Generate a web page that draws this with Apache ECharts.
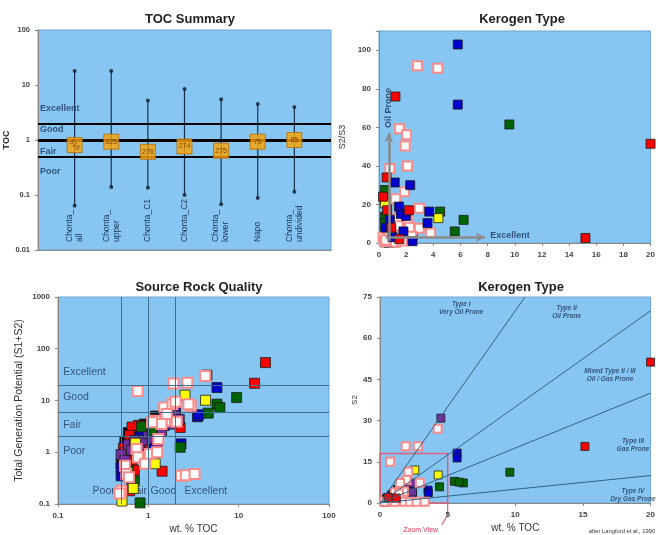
<!DOCTYPE html>
<html><head><meta charset="utf-8">
<script src="https://cdn.jsdelivr.net/npm/echarts@6/dist/echarts.min.js"></script>
<style>html,body{margin:0;padding:0;background:#fff}#c{width:658px;height:535px}</style>
</head><body><div id="c"></div>
<script>
// ---------- TOC Summary ----------
const tocGroups = ['Chonta_\nall','Chonta_\nupper','Chonta_C1','Chonta_C2','Chonta_\nlower','Napo','Chonta_\nundivided'];
const tocMin  = [0.064, 0.14, 0.135, 0.10, 0.068, 0.088, 0.115];
const tocMax  = [18, 18, 5.2, 8.5, 5.5, 4.5, 4.0];
const tocMean = [0.81, 0.93, 0.61, 0.76, 0.64, 0.93, 1.0];
const tocCount = ['516','225','276','274','275','75','85'];
const tocClassLines = [0.5, 1, 2];
const tocClassLabels = [['Excellent',3.8],['Good',1.58],['Fair',0.63],['Poor',0.27]];

// ---------- Kerogen Type (S2/S3 vs TOC) ----------
const kt1Blue   = [[5.8,103],[5.8,71.8],[1.16,31.4],[2.3,30],[1.47,18.9],[3.7,16.3],[3.57,10.3],[2.47,0.9],[1.6,15],[2.0,14],[0.5,8],[1.0,3],[1.8,6],[0.8,12]];
const kt1Red    = [[1.21,76],[20,51.5],[15.2,2.6],[0.56,34],[2.2,17],[0.3,24],[0.6,17],[0.9,8],[1.5,2]];
const kt1Green  = [[9.6,61.5],[6.23,12],[5.58,6],[4.5,16.3],[0.43,27.5],[0.43,22],[0.43,13.7],[0.43,10.3],[0.43,6],[0.6,22]];
const kt1Yellow = [[4.37,12.9],[0.43,20.6],[0.48,5],[1.6,11],[2.5,4]];
const kt1Black  = [[1.26,0.3],[0.4,0.3],[1.0,0.5],[0.7,0.2]];
const kt1Pink   = [[2.83,92],[4.33,90.7],[1.5,59.3],[2.03,56.2],[1.93,50.3],[2.1,40],[0.8,38.6],[1.88,26.6],[1.23,23],[2.97,18],[1.4,12.9],[2.12,12],[1.4,9],[2.25,8.2],[2.97,7.7],[3.8,5.2],[0.3,3],[0.6,2.5],[1.0,3],[1.5,3],[0.4,0.8],[1.2,0.5],[2.4,3.5],[0.8,6],[0.5,1.5],[1.7,1]];
const kt1ArrowUp = [[0.72,1],[0.72,57]];
const kt1ArrowRight = [[0.5,3],[7.8,3]];

// ---------- Source Rock Quality (S1+S2 vs TOC, log-log) ----------
const srqRed    = [[19.8,54],[15,21.5],[1.42,0.43],[0.66,3.07],[0.62,2.12],[0.53,1.19],[0.78,3.3],[0.66,0.7],[0.7,0.45],[2.25,3.0],[0.55,1.0],[0.62,0.18],[0.9,1.5]];
const srqBlue   = [[5.75,17.8],[3.5,4.85],[3.6,5.3],[2.3,1.45],[0.5,0.35],[0.5,0.5],[0.55,1.3],[0.6,0.8],[0.7,1.0],[0.75,2.0],[0.8,1.6],[0.9,2.5],[1.0,1.4],[1.1,3.0],[1.2,2.2],[1.3,4.2],[1.5,3.3],[1.8,5.5],[2.0,6.5],[0.65,0.3],[0.85,0.9],[1.05,0.75]];
const srqPurple = [[4.45,31],[0.5,0.9],[0.55,0.7],[0.6,1.4],[0.65,1.1],[0.7,1.7],[0.8,1.2],[0.9,1.7],[1.0,2.3],[1.1,1.8],[1.2,3.4],[1.4,2.5],[1.6,4.5],[1.8,3.5],[2.0,5],[2.2,4.3],[1.5,6],[0.95,3.2],[1.25,1.3]];
const srqGreen  = [[9.5,11.4],[5.75,8.5],[6.2,7.3],[4.6,5.7],[2.25,1.25],[0.84,3.1],[0.81,0.105],[0.7,0.28],[1.1,2.6],[0.6,0.45]];
const srqYellow = [[2.55,12.7],[4.3,10.1],[0.51,0.114],[0.68,0.2],[1.19,0.6],[0.72,1.5],[1.0,0.9]];
const srqBlack  = [[0.5,0.6],[0.55,1.6],[0.6,2.4],[0.7,2.8],[0.9,3.5],[1.2,5.0]];
const srqPink   = [[0.76,15.3],[1.9,21.2],[2.7,22],[4.27,29.8],[2.95,7.9],[2.3,0.35],[2.6,0.36],[3.25,0.38],[1.5,7.3],[1.19,4.06],[1.53,4.06],[2.06,3.9],[1.29,1.8],[1.04,0.93],[0.74,1.16],[0.77,0.8],[0.92,0.6],[0.55,0.55],[0.57,0.38],[0.61,0.33],[0.5,0.18],[0.48,0.16],[2.78,8.5],[1.4,3.5],[1.1,3.8],[1.85,8.5],[1.6,5.5],[2.0,9.5],[1.25,1.0]];
const srqTocLines = [0.5, 1, 2];
const srqGenLines = [2, 6, 20];
const srqLeftLabels = [['Excellent',0.114,36],['Good',0.114,11.4],['Fair',0.114,3.4],['Poor',0.114,1.05]];
const srqBottomLabels = [['Poor',0.32,0.18],['Fair',0.77,0.18],['Good',1.47,0.18],['Excellent',4.33,0.18]];

// ---------- Kerogen Type (S2 vs TOC) ----------
const kt2Red    = [[20,51.3],[15.15,20.6],[0.6,2],[1.2,1.8]];
const kt2Purple = [[4.5,30.9],[2.33,7.2],[1.8,6.5],[1.0,3],[1.5,5],[0.6,1.2],[2.4,4]];
const kt2Pink   = [[4.26,27],[1.9,20.7],[2.8,20.7],[0.74,15],[2.08,11.4],[2.94,7.4],[1.96,8.4],[1.48,7.3],[1.1,3.9],[1.77,4.2],[0.74,0.5],[1.1,0.5],[1.8,0.5],[2.2,0.5],[2.7,0.5],[3.3,0.5],[0.9,1.8],[1.4,3.5],[0.3,0.5]];
const kt2Yellow = [[2.57,12],[4.3,10.2],[0.5,1]];
const kt2Blue   = [[5.7,18.2],[5.7,16.4],[3.55,4.7],[3.57,3.7],[2.2,6],[1.2,4],[0.8,2.5],[2.4,3.2]];
const kt2Green  = [[9.6,11.2],[4.4,5.9],[5.5,7.9],[6.16,7.3],[5.85,7.6],[0.5,1.5]];
const kt2Black  = [[0.5,1.8],[0.86,3],[1.1,4.2],[0.69,1.2],[0.3,0.6],[1.3,5],[0.4,0.2]];
const kt2HI = [700, 350, 200, 50];
const kt2ZoomBox = [[0,0],[5,18]];
const kt2Labels = [['Type I\nVery Oil Prone',6.0,71],['Type II\nOil Prone',13.8,69.5],['Mixed Type II / III\nOil / Gas Prone',17,46.6],['Type III\nGas Prone',18.7,21],['Type IV\nDry Gas Prone',18.7,3]];

const FONT = 'Liberation Sans, Arial, sans-serif';
const NAVY = '#1c3358';
const BG = '#87c6f2';
const COLORS = {red:'#ff0000', blue:'#0000cc', green:'#006400', yellow:'#ffff00', purple:'#7030a0', black:'#000000'};

function pts(gi, data, kind, size){
  const pink = kind === 'pink';
  return {type:'scatter', xAxisIndex:gi, yAxisIndex:gi, data:data, symbol:'rect', symbolSize:size, z:4, silent:true,
    itemStyle: pink ? {color:'#ffffff', borderColor:'#ff8a8a', borderWidth:2, opacity:1}
                    : {color:COLORS[kind], borderColor:'#1a1a1a', borderWidth:0.8, opacity:1}};
}
function texts(gi, items, style, z){
  return {type:'scatter', xAxisIndex:gi, yAxisIndex:gi, symbolSize:0, silent:true, z:z||2,
    data: items.map(t => ({value:[t[1], t[2]], label:{formatter:t[0]}})),
    label: Object.assign({show:true, position:'inside', fontFamily:FONT}, style)};
}
function axisCommon(){
  return {axisLine:{show:true, lineStyle:{color:'#888', width:1}}, axisTick:{show:true, length:3, lineStyle:{color:'#888'}},
    splitLine:{show:false}, axisLabel:{fontSize:8, color:'#444', fontWeight:'bold', fontFamily:FONT}};
}
function fmtNum(v){ return String(+(+v).toPrecision(3)); }

const grids = [
  {left:38, top:30, width:293, height:220},
  {left:379, top:31, width:276, height:212},
  {left:58, top:297, width:271, height:209},
  {left:380, top:297, width:272, height:206}
].map(g => Object.assign(g, {show:true, backgroundColor:BG, borderColor:'#6fa5cf', borderWidth:1, containLabel:false}));

const ac = axisCommon;
const xAxes = [
  Object.assign(ac(), {gridIndex:0, type:'category', boundaryGap:false, data:['', ...tocGroups, ''],
    axisTick:{show:false},
    axisLabel:{inside:true, rotate:90, fontSize:8.5, color:NAVY, fontFamily:FONT, lineHeight:10, interval:0}}),
  Object.assign(ac(), {gridIndex:1, type:'value', min:0, max:20, interval:2}),
  Object.assign(ac(), {gridIndex:2, type:'log', logBase:10, min:0.1, max:100,
    name:'wt. % TOC', nameLocation:'middle', nameGap:20, nameTextStyle:{fontSize:10, color:'#333', fontFamily:FONT}}),
  Object.assign(ac(), {gridIndex:3, type:'value', min:0, max:20, interval:5,
    name:'wt. % TOC', nameLocation:'middle', nameGap:20, nameTextStyle:{fontSize:10, color:'#333', fontFamily:FONT}})
];
xAxes[2].axisLabel.formatter = fmtNum;
const yAxes = [
  Object.assign(ac(), {gridIndex:0, type:'log', logBase:10, min:0.01, max:100,
    name:'TOC', nameLocation:'middle', nameGap:24, nameTextStyle:{fontSize:9, fontWeight:'bold', color:'#333', fontFamily:FONT}}),
  Object.assign(ac(), {gridIndex:1, type:'value', min:0, max:110, interval:20,
    name:'S2/S3', nameLocation:'middle', nameGap:32, nameTextStyle:{fontSize:9, color:'#333', fontFamily:FONT}}),
  Object.assign(ac(), {gridIndex:2, type:'log', logBase:10, min:0.1, max:1000,
    name:'Total Generation Potential (S1+S2)', nameLocation:'middle', nameGap:33, nameTextStyle:{fontSize:10.5, color:'#333', fontFamily:FONT}}),
  Object.assign(ac(), {gridIndex:3, type:'value', min:0, max:75, interval:15,
    name:'S2', nameLocation:'middle', nameGap:18, nameTextStyle:{fontSize:8, color:'#333', fontFamily:FONT}})
];
yAxes[0].axisLabel.formatter = fmtNum;
yAxes[0].axisLabel.fontSize = 7.5;
yAxes[1].axisLabel.formatter = v => (v % 20 === 0 ? String(v) : '');
yAxes[2].axisLabel.formatter = fmtNum;

const series = [];
// --- TOC summary ---
series.push({type:'custom', xAxisIndex:0, yAxisIndex:0, silent:true, z:3,
  data: tocGroups.map((g,i) => [i+1, tocMin[i], tocMax[i]]),
  encode:{x:0, y:[1,2]},
  renderItem:(params, api) => {
    const a = api.coord([api.value(0), api.value(1)]);
    const b = api.coord([api.value(0), api.value(2)]);
    return {type:'line', shape:{x1:a[0], y1:a[1], x2:b[0], y2:b[1]}, style:{stroke:'#1a3050', lineWidth:1.2}};
  }});
series.push({type:'scatter', xAxisIndex:0, yAxisIndex:0, silent:true, z:4, symbol:'circle', symbolSize:4,
  itemStyle:{color:'#111a2a'},
  data: tocGroups.map((g,i) => [i+1, tocMin[i]]).concat(tocGroups.map((g,i) => [i+1, tocMax[i]]))});
series.push({type:'line', xAxisIndex:0, yAxisIndex:0, data:[], silent:true,
  markLine:{silent:true, symbol:['none','none'], label:{show:false},
    data: tocClassLines.map(v => ({yAxis:v, lineStyle:{color:'#000', width: v===1 ? 3 : 2, type:'solid'}}))}});
series.push(texts(0, tocClassLabels.map(t => [t[0], 0, t[1]]), {align:'left', offset:[2,0], fontSize:9, fontWeight:'bold', color:NAVY}));
series.push({type:'scatter', xAxisIndex:0, yAxisIndex:0, silent:true, z:5, symbol:'rect', symbolSize:15,
  itemStyle:{color:'#ffa200', borderColor:'#b36b00', borderWidth:1},
  data: tocGroups.map((g,i) => ({value:[i+1, tocMean[i]], label:{formatter:tocCount[i], rotate: i===0 ? -45 : 0}})),
  label:{show:true, position:'inside', fontSize:7, color:'#5a2d00', fontFamily:FONT}});

// --- Kerogen type S2/S3 ---
series.push({type:'line', xAxisIndex:1, yAxisIndex:1, data:[], silent:true,
  markLine:{silent:true, symbol:['none','arrow'], symbolSize:[7,9], label:{show:false},
    lineStyle:{color:'#8a8a8a', width:2.5, type:'solid'},
    data:[[{coord:kt1ArrowUp[0]},{coord:kt1ArrowUp[1]}],[{coord:kt1ArrowRight[0]},{coord:kt1ArrowRight[1]}]]}});
series.push(texts(1, [['Oil Prone',0.72,70]], {rotate:90, fontSize:9, fontWeight:'bold', color:NAVY}));
series.push(texts(1, [['Excellent',8.2,3.8]], {align:'left', fontSize:9, fontWeight:'bold', color:NAVY}));
series.push(pts(1, kt1Black, 'black', 9));
series.push(pts(1, kt1Green, 'green', 9));
series.push(pts(1, kt1Yellow, 'yellow', 9));
series.push(pts(1, kt1Pink, 'pink', 9));
series.push(pts(1, kt1Blue, 'blue', 9));
series.push(pts(1, kt1Red, 'red', 9));

// --- Source rock quality ---
series.push({type:'line', xAxisIndex:2, yAxisIndex:2, data:[], silent:true,
  markLine:{silent:true, symbol:['none','none'], label:{show:false},
    lineStyle:{color:'#3f6e92', width:1, type:'solid'},
    data: srqTocLines.map(v => ({xAxis:v})).concat(srqGenLines.map(v => ({yAxis:v})))}});
series.push(texts(2, srqLeftLabels, {align:'left', fontSize:10.5, color:NAVY}));
series.push(texts(2, srqBottomLabels, {align:'center', fontSize:10.5, color:NAVY}));
series.push(pts(2, srqBlack, 'black', 10));
series.push(pts(2, srqBlue, 'blue', 10));
series.push(pts(2, srqRed, 'red', 10));
series.push(pts(2, srqPurple, 'purple', 10));
series.push(pts(2, srqGreen, 'green', 10));
series.push(pts(2, srqYellow, 'yellow', 10));
series.push(pts(2, srqPink, 'pink', 10));

// --- Kerogen type S2 ---
series.push({type:'line', xAxisIndex:3, yAxisIndex:3, data:[], silent:true,
  markLine:{silent:true, symbol:['none','none'], label:{show:false},
    lineStyle:{color:'#2f6485', width:1, type:'solid'},
    data: kt2HI.map(hi => {
      const r = hi/100; const xe = Math.min(20, 75/r);
      return [{coord:[0,0]},{coord:[xe, xe*r]}];
    })},
  markArea:{silent:true, itemStyle:{color:'rgba(0,0,0,0)', borderColor:'#e0607a', borderWidth:1.5},
    data:[[{coord:kt2ZoomBox[0]},{coord:kt2ZoomBox[1]}]]}});
series.push(texts(3, kt2Labels, {align:'center', fontSize:6.5, fontStyle:'italic', fontWeight:'bold', color:NAVY, lineHeight:8}));
series.push(pts(3, kt2Black, 'black', 8));
series.push(pts(3, kt2Green, 'green', 8));
series.push(pts(3, kt2Blue, 'blue', 8));
series.push(pts(3, kt2Yellow, 'yellow', 8));
series.push(pts(3, kt2Purple, 'purple', 8));
series.push(pts(3, kt2Pink, 'pink', 8));
series.push(pts(3, kt2Red, 'red', 8));

const titleStyle = {fontSize:13, fontWeight:'bold', color:'#222', fontFamily:FONT};
const option = {
  animation:false,
  backgroundColor:'#ffffff',
  title:[
    {text:'TOC Summary', left:185, top:8, textAlign:'center', textStyle:titleStyle},
    {text:'Kerogen Type', left:517, top:8, textAlign:'center', textStyle:titleStyle},
    {text:'Source Rock Quality', left:194, top:276, textAlign:'center', textStyle:titleStyle},
    {text:'Kerogen Type', left:516, top:276, textAlign:'center', textStyle:titleStyle},
    {text:'after Langford et al., 1990', left:617, top:523, textAlign:'center', textStyle:{fontSize:5.8, fontWeight:'normal', color:'#333', fontFamily:FONT}}
  ],
  grid: grids,
  xAxis: xAxes,
  yAxis: yAxes,
  series: series
};
const chart = echarts.init(document.getElementById('c'), null, {renderer:'canvas'});
chart.setOption(option);

// Zoom view leader and label (placed through the axis scale)
const p5 = chart.convertToPixel({gridIndex:3}, [kt2ZoomBox[1][0], 0]);
chart.setOption({graphic:[
  {type:'polyline', silent:true, shape:{points:[[p5[0], p5[1]], [p5[0], p5[1]+12], [p5[0]-6, p5[1]+22]]}, style:{stroke:'#e0607a', lineWidth:1.2, fill:null}},
  {type:'text', silent:true, x:p5[0]-27, y:p5[1]+27, style:{text:'Zoom View', fill:'#e03050', fontSize:7, fontFamily:FONT, align:'center', verticalAlign:'middle'}}
]});
</script>
</body></html>
